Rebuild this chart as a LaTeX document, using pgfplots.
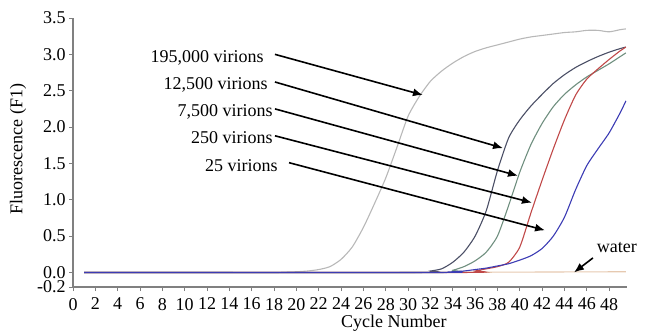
\documentclass[border=0pt]{standalone}
\usepackage{fontspec}
\setmainfont{Liberation Serif}
\usepackage{pgfplots}
\pgfplotsset{compat=1.18}
\usetikzlibrary{arrows.meta}
\definecolor{cgray}{HTML}{B8B8B8}
\definecolor{cdark}{HTML}{4B4F66}
\definecolor{cgreen}{HTML}{6F8F7F}
\definecolor{cred}{HTML}{C04848}
\definecolor{cblue}{HTML}{3C3CB4}
\definecolor{cwater}{HTML}{E6C9B0}
\definecolor{axgray}{HTML}{808080}
\begin{document}
\begin{tikzpicture}
\useasboundingbox (0,0) rectangle (323.5pt,166.5pt);
\begin{axis}[
  at={(36.5pt,23pt)}, anchor=south west,
  scale only axis, width=277pt, height=134.5pt,
  xmin=0, xmax=49.6, ymin=-0.2, ymax=3.5,
  clip=false,
  axis x line*=bottom, axis y line*=left,
  axis line style={draw=axgray, line width=0.6pt, -},
  xtick={0,2,...,48},
  ytick={-0.2,0,0.5,1,1.5,2,2.5,3,3.5},
  tick style={draw=axgray, line width=0.5pt},
  tick align=outside, major tick length=2pt,
  /pgf/number format/assume math mode=true,
  tick label style={font=\fontsize{9}{10}\selectfont},
  yticklabel style={inner ysep=0pt, inner xsep=1.5pt, /pgf/number format/.cd, fixed, fixed zerofill, precision=1},
  label style={font=\fontsize{9}{10}\selectfont},
  xlabel={Cycle Number},
  ylabel={Fluorescence (F1)},
  xlabel style={at={(axis description cs:0.579,-0.134)}, anchor=center},
  ylabel style={at={(axis description cs:-0.099,0.513)}, anchor=center},
  every axis plot/.append style={line width=0.55pt, mark=none, smooth, tension=0.4},
]
% water
\addplot[cwater] coordinates {(1,0) (10,0) (20,0) (30,0) (40,0.005) (49.5,0.01)};
% 195,000 virions
\addplot[cgray] coordinates {(1,0) (18,0) (19,0.005) (20,0.01) (21,0.02) (22,0.04) (23,0.08) (24,0.18) (25,0.35) (26,0.62) (27,0.95) (28,1.3) (29,1.72) (30,2.15) (31,2.42) (32,2.63) (33,2.77) (34,2.88) (35,2.97) (36,3.04) (37,3.09) (38,3.13) (39,3.17) (40,3.21) (41,3.24) (42,3.26) (43,3.28) (44,3.3) (45,3.31) (46,3.33) (47,3.33) (48,3.31) (49,3.34) (49.5,3.35)};
% 12,500 virions
\addplot[cdark] coordinates {(1,0) (31,0) (32,0.02) (33,0.05) (34,0.14) (35,0.28) (36,0.5) (37,0.85) (38,1.4) (39,1.85) (40,2.1) (41,2.29) (42,2.45) (43,2.6) (44,2.72) (45,2.82) (46,2.9) (47,2.97) (48,3.03) (49,3.08) (49.5,3.1)};
% 7,500 virions
\addplot[cgreen] coordinates {(1,0) (33,0) (34,0.03) (35,0.08) (36,0.16) (37,0.28) (38,0.5) (39,0.92) (40,1.38) (41,1.76) (42,2.05) (43,2.28) (44,2.45) (45,2.58) (46,2.69) (47,2.78) (48,2.87) (49,2.97) (49.5,3.02)};
% 250 virions
\addplot[cred] coordinates {(1,0) (35,0) (36,0.02) (37,0.05) (38,0.08) (39,0.14) (40,0.35) (41,0.82) (42,1.27) (43,1.7) (44,2.1) (45,2.44) (46,2.66) (47,2.8) (48,2.93) (49,3.05) (49.5,3.1)};
% 25 virions
\addplot[cblue] coordinates {(1,0) (33,0) (34,0.01) (35,0.02) (36,0.04) (37,0.06) (38,0.09) (39,0.12) (40,0.17) (41,0.23) (42,0.33) (43,0.5) (44,0.76) (45,1.14) (46,1.47) (47,1.7) (48,1.92) (49,2.2) (49.5,2.36)};
% annotations
\begin{scope}[every node/.style={font=\fontsize{9}{10}\selectfont, inner sep=0pt}]
\node[anchor=east] at (axis cs:17.1,2.95) {195,000 virions};
\node[anchor=east] at (axis cs:17.46,2.58) {12,500 virions};
\node[anchor=east] at (axis cs:17.9,2.21) {7,500 virions};
\node[anchor=east] at (axis cs:17.9,1.85) {250 virions};
\node[anchor=east] at (axis cs:18.35,1.47) {25 virions};
\node at (axis cs:48.7,0.34) {water};
\end{scope}
\begin{scope}[line width=0.8pt, -{Latex[length=5pt,width=4pt]}]
\draw (axis cs:18.08,3.0) -- (axis cs:31.33,2.44);
\draw (axis cs:18.08,2.62) -- (axis cs:38.5,1.71);
\draw (axis cs:18.08,2.25) -- (axis cs:39.84,1.33);
\draw (axis cs:18.08,1.88) -- (axis cs:41.09,0.96);
\draw (axis cs:19.34,1.51) -- (axis cs:42.26,0.58);
\draw (axis cs:46.55,0.20) -- (axis cs:44.85,0.0);
\end{scope}
\end{axis}
\end{tikzpicture}
\end{document}
